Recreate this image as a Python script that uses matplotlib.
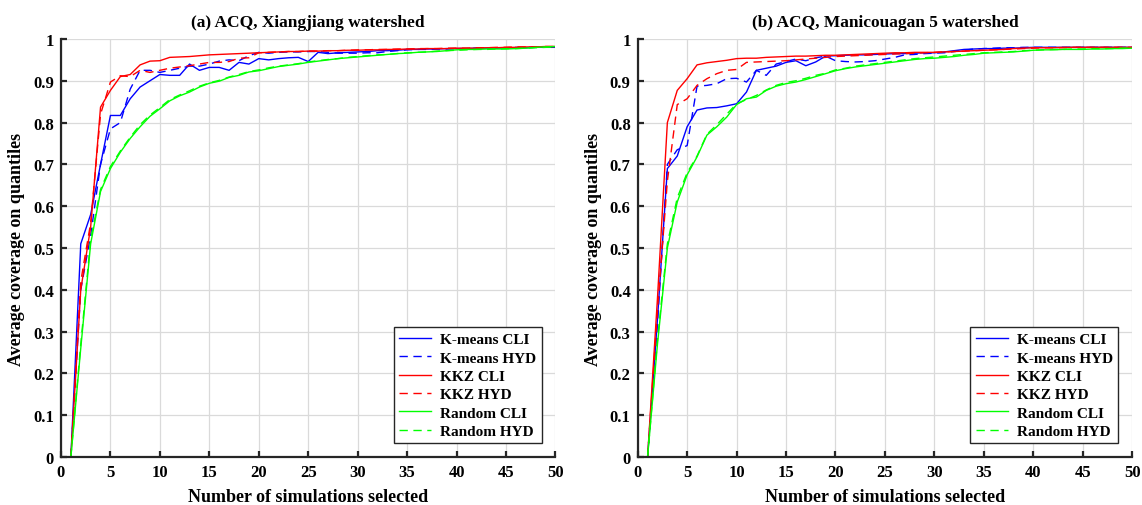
import matplotlib
matplotlib.use("Agg")
import matplotlib.pyplot as plt

plt.rcParams['font.family'] = ['Liberation Serif', 'DejaVu Serif']
plt.rcParams['font.weight'] = 'bold'

n_sel = list(range(1, 51))

# (a) Xiangjiang
km_cli_a = [0.0, 0.51, 0.58, 0.70, 0.817, 0.817, 0.857, 0.885, 0.90, 0.915,
            0.913, 0.913, 0.94, 0.925, 0.932, 0.932, 0.925, 0.944, 0.94, 0.953,
            0.95, 0.953, 0.955, 0.956, 0.946, 0.968, 0.965, 0.967, 0.968, 0.969,
            0.970, 0.972, 0.972, 0.973, 0.975, 0.975, 0.976, 0.976, 0.977, 0.977,
            0.977, 0.978, 0.978, 0.978, 0.979, 0.979, 0.979, 0.980, 0.980, 0.980]
km_hyd_a = [0.0, 0.40, 0.53, 0.70, 0.785, 0.80, 0.88, 0.925, 0.925, 0.92,
            0.925, 0.93, 0.935, 0.935, 0.94, 0.947, 0.950, 0.948, 0.960, 0.968,
            0.966, 0.968, 0.969, 0.969, 0.970, 0.970, 0.968, 0.966, 0.966, 0.966,
            0.967, 0.967, 0.970, 0.972, 0.974, 0.975, 0.975, 0.976, 0.976, 0.977,
            0.977, 0.978, 0.978, 0.979, 0.979, 0.980, 0.980, 0.981, 0.981, 0.982]
kkz_cli_a = [0.0, 0.40, 0.55, 0.837, 0.877, 0.91, 0.915, 0.938, 0.947, 0.948,
             0.956, 0.957, 0.958, 0.960, 0.962, 0.963, 0.964, 0.965, 0.966, 0.967,
             0.968, 0.969, 0.970, 0.970, 0.971, 0.971, 0.972, 0.972, 0.973, 0.973,
             0.974, 0.974, 0.975, 0.975, 0.976, 0.976, 0.977, 0.977, 0.977, 0.978,
             0.978, 0.978, 0.979, 0.979, 0.980, 0.980, 0.981, 0.981, 0.982, 0.982]
kkz_hyd_a = [0.0, 0.42, 0.56, 0.82, 0.897, 0.912, 0.91, 0.925, 0.92, 0.925,
             0.93, 0.933, 0.936, 0.940, 0.944, 0.944, 0.946, 0.954, 0.955, 0.967,
             0.968, 0.969, 0.970, 0.970, 0.971, 0.971, 0.972, 0.972, 0.973, 0.974,
             0.974, 0.975, 0.975, 0.976, 0.976, 0.977, 0.977, 0.977, 0.978, 0.978,
             0.978, 0.979, 0.979, 0.980, 0.980, 0.981, 0.981, 0.981, 0.982, 0.982]
rnd_cli_a = [0.0, 0.26, 0.51, 0.635, 0.69, 0.729, 0.762, 0.79, 0.815, 0.833,
             0.852, 0.864, 0.873, 0.885, 0.894, 0.899, 0.908, 0.913, 0.921, 0.924,
             0.929, 0.934, 0.937, 0.940, 0.944, 0.947, 0.950, 0.953, 0.955, 0.957,
             0.959, 0.961, 0.963, 0.965, 0.966, 0.968, 0.969, 0.970, 0.972, 0.974,
             0.975, 0.975, 0.976, 0.976, 0.976, 0.977, 0.978, 0.980, 0.981, 0.982]
rnd_hyd_a = [0.0, 0.27, 0.52, 0.64, 0.695, 0.732, 0.765, 0.795, 0.818, 0.836,
             0.855, 0.866, 0.876, 0.887, 0.895, 0.901, 0.909, 0.915, 0.922, 0.926,
             0.931, 0.935, 0.938, 0.941, 0.945, 0.948, 0.951, 0.953, 0.956, 0.958,
             0.960, 0.962, 0.963, 0.965, 0.967, 0.968, 0.969, 0.971, 0.972, 0.973,
             0.974, 0.975, 0.975, 0.976, 0.977, 0.977, 0.978, 0.979, 0.980, 0.981]

# (b) Manicouagan 5
km_cli_b = [0.0, 0.33, 0.69, 0.72, 0.79, 0.83, 0.835, 0.836, 0.84, 0.845,
            0.873, 0.925, 0.93, 0.935, 0.944, 0.948, 0.936, 0.945, 0.959, 0.960,
            0.961, 0.962, 0.962, 0.963, 0.964, 0.965, 0.965, 0.966, 0.967, 0.967,
            0.969, 0.972, 0.975, 0.976, 0.977, 0.977, 0.978, 0.978, 0.979, 0.980,
            0.980, 0.980, 0.980, 0.980, 0.980, 0.980, 0.980, 0.980, 0.980, 0.980]
km_hyd_b = [0.0, 0.32, 0.70, 0.735, 0.745, 0.887, 0.889, 0.893, 0.905, 0.906,
            0.897, 0.925, 0.913, 0.94, 0.946, 0.952, 0.948, 0.955, 0.959, 0.948,
            0.946, 0.945, 0.946, 0.948, 0.952, 0.956, 0.962, 0.963, 0.965, 0.966,
            0.967, 0.970, 0.973, 0.976, 0.977, 0.978, 0.979, 0.979, 0.980, 0.980,
            0.980, 0.980, 0.980, 0.980, 0.980, 0.980, 0.980, 0.980, 0.980, 0.980]
kkz_cli_b = [0.0, 0.38, 0.80, 0.877, 0.905, 0.938, 0.943, 0.946, 0.949, 0.953,
             0.954, 0.954, 0.956, 0.957, 0.958, 0.959, 0.959, 0.960, 0.961, 0.961,
             0.962, 0.963, 0.964, 0.965, 0.966, 0.967, 0.967, 0.968, 0.968, 0.968,
             0.969, 0.970, 0.971, 0.972, 0.973, 0.974, 0.975, 0.977, 0.978, 0.979,
             0.979, 0.979, 0.980, 0.980, 0.980, 0.980, 0.980, 0.980, 0.980, 0.980]
kkz_hyd_b = [0.0, 0.35, 0.66, 0.843, 0.857, 0.889, 0.905, 0.917, 0.925, 0.927,
             0.944, 0.945, 0.946, 0.947, 0.948, 0.950, 0.952, 0.954, 0.956, 0.958,
             0.959, 0.960, 0.961, 0.962, 0.963, 0.964, 0.965, 0.966, 0.967, 0.968,
             0.969, 0.970, 0.971, 0.972, 0.973, 0.974, 0.975, 0.976, 0.977, 0.978,
             0.979, 0.979, 0.979, 0.980, 0.980, 0.980, 0.980, 0.980, 0.980, 0.980]
rnd_cli_b = [0.0, 0.27, 0.50, 0.61, 0.675, 0.718, 0.77, 0.79, 0.813, 0.843,
             0.857, 0.861, 0.877, 0.887, 0.893, 0.897, 0.903, 0.910, 0.917, 0.924,
             0.929, 0.933, 0.936, 0.939, 0.942, 0.945, 0.948, 0.951, 0.953, 0.954,
             0.956, 0.958, 0.961, 0.963, 0.966, 0.967, 0.968, 0.969, 0.971, 0.973,
             0.974, 0.974, 0.975, 0.975, 0.975, 0.976, 0.976, 0.977, 0.977, 0.978]
rnd_hyd_b = [0.0, 0.28, 0.51, 0.62, 0.68, 0.72, 0.772, 0.795, 0.82, 0.845,
             0.855, 0.865, 0.878, 0.889, 0.896, 0.900, 0.906, 0.913, 0.918, 0.926,
             0.930, 0.935, 0.938, 0.941, 0.944, 0.947, 0.950, 0.953, 0.955, 0.957,
             0.959, 0.961, 0.963, 0.965, 0.967, 0.968, 0.969, 0.970, 0.972, 0.973,
             0.974, 0.975, 0.975, 0.976, 0.976, 0.977, 0.977, 0.977, 0.978, 0.978]

labels = ["K-means CLI", "K-means HYD", "KKZ CLI", "KKZ HYD", "Random CLI", "Random HYD"]
colors = ["#0000ff", "#0000ff", "#ff0000", "#ff0000", "#00ff00", "#00ff00"]
styles = ["-", (0, (6, 4)), "-", (0, (6, 4)), "-", (0, (6, 4))]

panels = [
    ("(a) ACQ, Xiangjiang watershed",
     [km_cli_a, km_hyd_a, kkz_cli_a, kkz_hyd_a, rnd_cli_a, rnd_hyd_a]),
    ("(b) ACQ, Manicouagan 5 watershed",
     [km_cli_b, km_hyd_b, kkz_cli_b, kkz_hyd_b, rnd_cli_b, rnd_hyd_b]),
]

fig = plt.figure(figsize=(11.42, 5.06), dpi=100)
axes = [fig.add_axes([0.0534, 0.0949, 0.4330, 0.8261]),
        fig.add_axes([0.5584, 0.0949, 0.4330, 0.8261])]

for ax, (title, series) in zip(axes, panels):
    for ys, lab, c, ls in zip(series, labels, colors, styles):
        ax.plot(n_sel, ys, color=c, linestyle=ls, linewidth=1.0, label=lab)
    ax.set_xlim(0, 50)
    ax.set_ylim(0, 1)
    ax.set_xticks(range(0, 51, 5))
    ax.set_yticks([i / 10 for i in range(11)])
    ax.set_yticklabels(["0"] + ["0.%d" % i for i in range(1, 10)] + ["1"])
    ax.grid(True, color="#dadada", linewidth=0.9)
    ax.set_axisbelow(True)
    for s in ["top", "right"]:
        ax.spines[s].set_visible(False)
    for s in ["left", "bottom"]:
        ax.spines[s].set_linewidth(1.6)
        ax.spines[s].set_color("#262626")
    ax.tick_params(direction="in", length=4, width=1.6, color="#262626",
                   labelsize=12, pad=5)
    for lb in ax.get_xticklabels() + ax.get_yticklabels():
        lb.set_fontweight("bold")
    ax.set_title(title, fontsize=12.5, fontweight="bold", pad=9)
    ax.set_xlabel("Number of simulations selected", fontsize=13, fontweight="bold", labelpad=6)
    ax.set_ylabel("Average coverage on quantiles", fontsize=13, fontweight="bold", labelpad=6)
    leg = ax.legend(loc="lower right", frameon=True, fancybox=False,
                    handlelength=2.1, handletextpad=0.6, labelspacing=0.3,
                    borderpad=0.35, borderaxespad=0.9, prop={"weight": "bold", "size": 11})
    leg.get_frame().set_edgecolor("#262626")
    leg.get_frame().set_linewidth(1.0)
    leg.get_frame().set_alpha(1.0)

fig.savefig("out.png", dpi=100)
